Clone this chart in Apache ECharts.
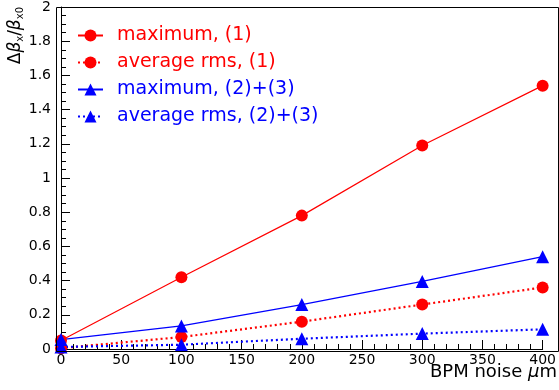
<!DOCTYPE html>
<html>
<head>
<meta charset="utf-8">
<script src="https://cdn.jsdelivr.net/npm/echarts@6/dist/echarts.min.js"></script>
<style>
  html, body { margin: 0; padding: 0; background: #fff; }
  #chart { width: 559px; height: 390px; }
</style>
</head>
<body>
<div id="chart"></div>
<script>
// BPM noise in um
const noise = [0, 100, 200, 300, 400];
// relative beta-beat
const maxOne = [0.05, 0.42, 0.78, 1.19, 1.54];
const rmsOne = [0.005, 0.07, 0.16, 0.26, 0.36];
const maxTwoThree = [0.055, 0.135, 0.26, 0.395, 0.54];
const rmsTwoThree = [0.012, 0.025, 0.06, 0.09, 0.115];

const seriesNames = ['maximum, (1)', 'average rms, (1)', 'maximum, (2)+(3)', 'average rms, (2)+(3)'];
const RED = '#ff0000';
const BLUE = '#0000ff';
const font = '"DejaVu Sans", sans-serif';

const pairs = (ys) => noise.map((x, i) => [x, ys[i]]);

const mkSeries = (name, ys, color, symbol, dashed) => ({
  name,
  type: 'line',
  data: pairs(ys),
  symbol,
  symbolSize: symbol === 'circle' ? 12 : 13,
  showSymbol: true,
  color,
  itemStyle: { color },
  lineStyle: { color, width: dashed ? 2.2 : 1.2, type: dashed ? [2, 3] : 'solid' },
  emphasis: { disabled: true },
  animation: false
});

const chart = echarts.init(document.getElementById('chart'), null, { renderer: 'canvas' });

chart.setOption({
  animation: false,
  grid: { left: 61, right: 7, top: 5, bottom: 41, containLabel: false },
  legend: {
    orient: 'vertical',
    left: 72,
    top: 21,
    itemWidth: 25,
    itemHeight: 15,
    itemGap: 8,
    textStyle: { fontFamily: font, fontSize: 19, lineHeight: 19, padding: [0, 0, 0, 9] },
    data: seriesNames.map((n, i) => ({ name: n, textStyle: { color: i < 2 ? RED : BLUE } }))
  },
  xAxis: {
    type: 'value',
    min: 0,
    max: 400,
    interval: 50,
    axisLine: { show: true, lineStyle: { color: '#000', width: 1 } },
    axisTick: { inside: true, length: 9, lineStyle: { color: '#000' } },
    minorTick: { show: true, splitNumber: 5, length: 5, lineStyle: { color: '#000' } },
    axisLabel: { color: '#000', fontFamily: font, fontSize: 14, margin: 4 },
    splitLine: { show: false }
  },
  yAxis: {
    type: 'value',
    min: 0,
    max: 2,
    interval: 0.2,
    offset: 7,
    axisLine: { show: true, lineStyle: { color: '#000', width: 1 } },
    axisTick: { inside: true, length: 9, lineStyle: { color: '#000' } },
    minorTick: { show: true, splitNumber: 4, length: 5, lineStyle: { color: '#000' } },
    axisLabel: { color: '#000', fontFamily: font, fontSize: 14, margin: 3 },
    splitLine: { show: false }
  },
  graphic: [
    {
      type: 'rect',
      left: 54,
      top: 5,
      shape: { width: 502, height: 344 },
      style: { fill: null, stroke: '#000', lineWidth: 1 },
      silent: true,
      z: 10
    },
    {
      type: 'text',
      x: 16,
      y: 7,
      rotation: Math.PI / 2,
      style: {
        text: 'Δ{it|β}{sub|x}/{it|β}{sub|x0}',
        align: 'right',
        verticalAlign: 'middle',
        fontFamily: font,
        fontSize: 17,
        fill: '#000',
        rich: {
          it: { fontStyle: 'italic', fontFamily: font, fontSize: 17 },
          sub: { fontFamily: font, fontSize: 10, verticalAlign: 'bottom', padding: [8, 0, 0, 0] }
        }
      }
    },
    {
      type: 'text',
      right: 2,
      top: 363,
      style: {
        text: 'BPM noise {it|μ}m',
        fontFamily: font,
        fontSize: 18,
        fill: '#000',
        rich: { it: { fontStyle: 'italic', fontFamily: font, fontSize: 18 } }
      }
    }
  ],
  series: [
    mkSeries(seriesNames[0], maxOne, RED, 'circle', false),
    mkSeries(seriesNames[1], rmsOne, RED, 'circle', true),
    mkSeries(seriesNames[2], maxTwoThree, BLUE, 'triangle', false),
    mkSeries(seriesNames[3], rmsTwoThree, BLUE, 'triangle', true)
  ]
});
</script>
</body>
</html>
